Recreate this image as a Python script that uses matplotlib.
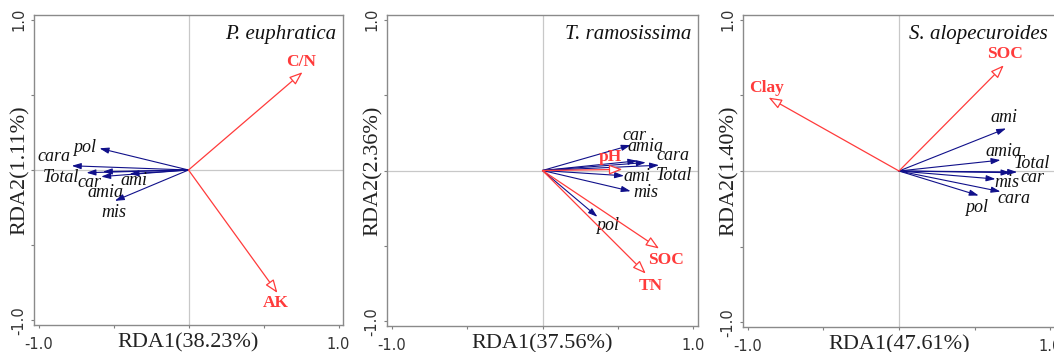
import matplotlib
matplotlib.use('Agg')
import matplotlib.pyplot as plt
from matplotlib.ticker import FixedLocator, FuncFormatter

# ---- data (RDA biplot scores) ----
titles = ['P. euphratica', 'T. ramosissima', 'S. alopecuroides']
xlabels = ['RDA1(38.23%)', 'RDA1(37.56%)', 'RDA1(47.61%)']
ylabels = ['RDA2(1.11%)', 'RDA2(2.36%)', 'RDA2(1.40%)']

# panel 1 - P. euphratica
sp1 = ['pol', 'cara', 'Total', 'car', 'amia', 'ami', 'mis']
sp1_x = [-0.593, -0.778, -0.680, -0.571, -0.582, -0.393, -0.491]
sp1_y = [0.144, 0.028, -0.018, -0.011, -0.044, -0.026, -0.205]
env1 = ['C/N', 'AK']
env1_x = [0.760, 0.593]
env1_y = [0.650, -0.817]

# panel 2 - T. ramosissima
sp2 = ['car', 'amia', 'cara', 'Total', 'ami', 'mis', 'pol']
sp2_x = [0.584, 0.628, 0.684, 0.772, 0.540, 0.584, 0.364]
sp2_y = [0.168, 0.064, 0.053, 0.035, -0.035, -0.137, -0.307]
env2 = ['pH', 'SOC', 'TN']
env2_x = [0.529, 0.772, 0.684]
env2_y = [0.007, -0.517, -0.683]

# panel 3 - S. alopecuroides
sp3 = ['ami', 'amia', 'Total', 'car', 'mis', 'cara', 'pol']
sp3_x = [0.707, 0.670, 0.780, 0.736, 0.637, 0.670, 0.526]
sp3_y = [0.281, 0.072, -0.007, -0.011, -0.053, -0.136, -0.162]
env3 = ['SOC', 'Clay']
env3_x = [0.692, -0.861]
env3_y = [0.698, 0.485]

# ---- label placement (layout only) ----
lab1 = {'pol': (-0.690, 0.150), 'cara': (-0.896, 0.088), 'Total': (-0.851, -0.050),
        'car': (-0.662, -0.080), 'amia': (-0.551, -0.150), 'ami': (-0.362, -0.072),
        'mis': (-0.496, -0.282), 'C/N': (0.749, 0.717), 'AK': (0.582, -0.887)}
lab2 = {'car': (0.606, 0.234), 'amia': (0.684, 0.157), 'cara': (0.867, 0.100),
        'Total': (0.871, -0.030), 'ami': (0.624, -0.040), 'mis': (0.684, -0.148),
        'pol': (0.430, -0.362), 'pH': (0.452, 0.091), 'SOC': (0.816, -0.590),
        'TN': (0.717, -0.767)}
lab3 = {'ami': (0.692, 0.353), 'amia': (0.692, 0.127), 'Total': (0.879, 0.050),
        'car': (0.879, -0.044), 'mis': (0.714, -0.077), 'cara': (0.758, -0.180),
        'pol': (0.509, -0.239), 'SOC': (0.703, 0.771), 'Clay': (-0.872, 0.551)}

panels = [
    (sp1, sp1_x, sp1_y, env1, env1_x, env1_y, lab1),
    (sp2, sp2_x, sp2_y, env2, env2_x, env2_y, lab2),
    (sp3, sp3_x, sp3_y, env3, env3_x, env3_y, lab3),
]

W, H = 1054, 352
fig = plt.figure(figsize=(W / 100, H / 100), dpi=100)
# axes boxes in pixels: left, top, width, height
boxes = [(34, 15, 309, 310), (387, 15, 311, 311), (743, 15, 312, 312)]

blue = '#10108a'
red = '#ff3b3b'
serif = 'Liberation Serif'

for i, (sp, sx, sy, env, ex, ey, lab) in enumerate(panels):
    l, t, w, h = boxes[i]
    ax = fig.add_axes([l / W, 1 - (t + h) / H, w / W, h / H])
    ax.set_xlim(-1.03, 1.03)
    ax.set_ylim(-1.03, 1.03)
    ax.axhline(0, color='#c8c8c8', lw=0.9, zorder=0)
    ax.axvline(0, color='#c8c8c8', lw=0.9, zorder=0)

    for name, x, y in zip(sp, sx, sy):
        ax.annotate('', xy=(x, y), xytext=(0, 0),
                    arrowprops=dict(arrowstyle='-|>,head_length=0.55,head_width=0.18',
                                    color=blue, lw=0.8, shrinkA=0, shrinkB=0,
                                    mutation_scale=10))
        lx, ly = lab[name]
        ax.text(lx, ly, name, fontsize=13, style='italic', family=serif,
                ha='center', va='center', color='#111111')

    for name, x, y in zip(env, ex, ey):
        ax.annotate('', xy=(x, y), xytext=(0, 0),
                    arrowprops=dict(arrowstyle='-|>,head_length=0.8,head_width=0.3',
                                    ec=red, fc='white', lw=0.9, shrinkA=0, shrinkB=0,
                                    mutation_scale=10))
        lx, ly = lab[name]
        ax.text(lx, ly, name, fontsize=12.5, weight='bold', family=serif,
                ha='center', va='center', color=red)

    ax.text(0.985, 0.90, titles[i], fontsize=15, style='italic', family=serif,
            ha='right', va='center', color='#111111')

    ticks = [-1.0, -0.5, 0.0, 0.5, 1.0]
    fmt = FuncFormatter(lambda v, p: '%.1f' % v if abs(abs(v) - 1) < 1e-6 else '')
    for axis in (ax.xaxis, ax.yaxis):
        axis.set_major_locator(FixedLocator(ticks))
        axis.set_major_formatter(fmt)
    ax.tick_params(length=2, width=0.8, color='#7f7f7f', labelsize=10.5,
                   labelcolor='#333333')
    ax.tick_params(axis='x', pad=6.5)
    ax.tick_params(axis='y', pad=3.5)
    for lbl in ax.get_yticklabels():
        lbl.set_rotation(90)
        lbl.set_va('center')
    for s in ax.spines.values():
        s.set_color('#8a8a8a')
        s.set_linewidth(1.0)

    ax.set_xlabel(xlabels[i], fontsize=16, family=serif, color='#222222')
    ax.set_ylabel(ylabels[i], fontsize=16, family=serif, color='#222222')
    ax.xaxis.set_label_coords(0.5, -0.026)
    ax.yaxis.set_label_coords(-0.012, 0.5)

fig.savefig('out.png', dpi=100)
